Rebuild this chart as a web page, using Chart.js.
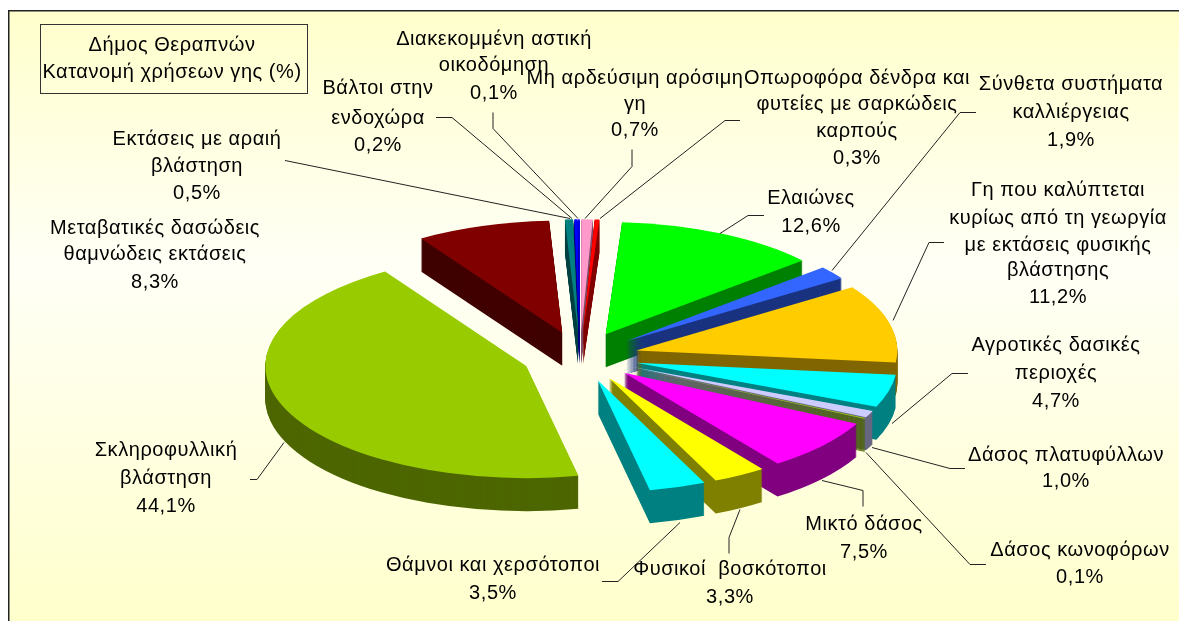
<!DOCTYPE html>
<html>
<head>
<meta charset="utf-8">
<title>Δήμος Θεραπνών</title>
<script src="https://cdn.jsdelivr.net/npm/chart.js@4/dist/chart.umd.min.js"></script>
<style>
  html, body { margin: 0; padding: 0; background: #fff; }
  canvas { display: block; }
</style>
</head>
<body>
<canvas id="landUseChart" width="1179" height="621"></canvas>
<script>
// Values clockwise from 12 o'clock
const categories = [
    'Μη αρδεύσιμη αρόσιμη γη', 'Οπωροφόρα δένδρα και φυτείες με σαρκώδεις καρπούς', 'Ελαιώνες',
    'Σύνθετα συστήματα καλλιέργειας', 'Γη που καλύπτεται κυρίως από τη γεωργία με εκτάσεις φυσικής βλάστησης',
    'Αγροτικές δασικές περιοχές', 'Δάσος πλατυφύλλων', 'Δάσος κωνοφόρων', 'Μικτό δάσος',
    'Φυσικοί  βοσκότοποι', 'Θάμνοι και χερσότοποι', 'Σκληροφυλλική βλάστηση',
    'Μεταβατικές δασώδεις θαμνώδεις εκτάσεις', 'Εκτάσεις με αραιή βλάστηση', 'Βάλτοι στην ενδοχώρα',
    'Διακεκομμένη αστική οικοδόμηση'
];
const values = [0.7, 0.3, 12.6, 1.9, 11.2, 4.7, 1.0, 0.1, 7.5, 3.3, 3.5, 44.1, 8.3, 0.5, 0.2, 0.1];
const topColors = ['#FF99CC', '#FF0000', '#00FF00', '#3366FF', '#FFCC00', '#00FFFF', '#CCCCFF', '#99CC00',
    '#FF00FF', '#FFFF00', '#00FFFF', '#99CC00', '#800000', '#008080', '#0000FF', '#0000FF'];
const sideColors = ['#804D66', '#800000', '#008000', '#1A3380', '#806600', '#008080', '#666680', '#4D6600',
    '#800080', '#808000', '#008080', '#4D6600', '#400000', '#004040', '#000080', '#000080'];

const titleLines = ['Δήμος Θεραπνών', 'Κατανομή χρήσεων γης (%)'];

// Wrapped label text, same order as categories
const labelLines = [
    ['Μη αρδεύσιμη αρόσιμη', 'γη'],
    ['Οπωροφόρα δένδρα και', 'φυτείες με σαρκώδεις', 'καρπούς'],
    ['Ελαιώνες'],
    ['Σύνθετα συστήματα', 'καλλιέργειας'],
    ['Γη που καλύπτεται', 'κυρίως από τη γεωργία', 'με εκτάσεις φυσικής', 'βλάστησης'],
    ['Αγροτικές δασικές', 'περιοχές'],
    ['Δάσος πλατυφύλλων'],
    ['Δάσος κωνοφόρων'],
    ['Μικτό δάσος'],
    ['Φυσικοί  βοσκότοποι'],
    ['Θάμνοι και χερσότοποι'],
    ['Σκληροφυλλική', 'βλάστηση'],
    ['Μεταβατικές δασώδεις', 'θαμνώδεις εκτάσεις'],
    ['Εκτάσεις με αραιή', 'βλάστηση'],
    ['Βάλτοι στην', 'ενδοχώρα'],
    ['Διακεκομμένη αστική', 'οικοδόμηση']
];

// Label placement: center x, then center y of each text row
const labelPlaces = [
    [635, [78, 104, 130]],
    [857, [78, 104, 131, 158]],
    [811, [198, 226]],
    [1071, [84, 112, 140]],
    [1058, [190, 218, 245, 270, 297]],
    [1056, [345, 373, 401]],
    [1066, [455, 481]],
    [1080, [550, 577]],
    [864, [524, 552]],
    [730, [569, 597]],
    [493, [565, 593]],
    [166, [450, 478, 506]],
    [155, [228, 254, 282]],
    [197, [139, 166, 193]],
    [378, [88, 118, 145]],
    [494, [39, 65, 93]]
];

// Leader lines, label end first
const leaderPaths = [
    [[632, 149], [632, 166], [585, 218]],
    [[740, 120], [725, 120], [600, 218]],
    [[764, 215], [748, 215], [720, 233]],
    [[976, 112], [960, 112], [832, 270]],
    [[944, 242], [929, 242], [893, 320]],
    [[968, 373], [952, 373], [892, 423]],
    [[965, 468], [950, 468], [872, 447]],
    [[986, 564], [970, 564], [866, 452]],
    [[863, 506], [863, 490], [822, 480]],
    [[729, 553], [729, 537], [740, 509]],
    [[602, 581], [618, 581], [680, 522]],
    [[250, 479], [257, 479], [284, 442]],
    null,
    [[285, 160], [570, 218]],
    [[436, 117], [452, 117], [572, 218]],
    [[493, 112], [493, 128], [578, 218]]
];

const FONT = '20px "Liberation Sans", Arial, sans-serif';
const TILT = 0.43;    // vertical squash of the pie
const DEPTH = 33;     // thickness of the slices in px

// Frame and gradient behind everything
const backdrop = {
    id: 'backdrop',
    beforeDraw(chart) {
        const { ctx, width, height } = chart;
        const grad = ctx.createLinearGradient(0, 10, 0, height);
        grad.addColorStop(0, '#FFFFCC');
        grad.addColorStop(0.42, '#FFFFF6');
        grad.addColorStop(1, '#FFFFCC');
        ctx.save();
        ctx.fillStyle = grad;
        ctx.fillRect(9, 11, width - 9, height - 11);
        ctx.fillStyle = '#222';
        ctx.fillRect(8, 10, width - 8, 1.5);
        ctx.fillRect(8, 10, 1.5, height - 10);
        ctx.restore();
    }
};

function sliceFill(ctx, arc, offX, offY, fill) {
    ctx.save();
    ctx.translate(arc.x + offX, arc.y + offY);
    ctx.scale(1, TILT);
    ctx.beginPath();
    ctx.moveTo(0, 0);
    ctx.arc(0, 0, arc.outerRadius, arc.startAngle, arc.endAngle);
    ctx.closePath();
    ctx.restore();
    ctx.fillStyle = fill;
    ctx.fill();
}

// Chart.js gives us the slice geometry, this squashes and extrudes it
const tiltedPie = {
    id: 'tiltedPie',
    beforeDatasetDraw(chart) {
        const { ctx } = chart;
        const arcs = chart.getDatasetMeta(0).data.map((el, i) => {
            const p = el.getProps(['x', 'y', 'startAngle', 'endAngle', 'outerRadius']);
            const mid = (p.startAngle + p.endAngle) / 2;
            const off = el.options.offset;
            return { ...p, i, mid, offX: Math.cos(mid) * off, offY: Math.sin(mid) * off * TILT };
        });
        arcs.sort((a, b) => Math.sin(a.mid) - Math.sin(b.mid));
        arcs.forEach(a => {
            for (let d = DEPTH; d > 0; d--) {
                sliceFill(ctx, a, a.offX, a.offY + d, sideColors[a.i]);
            }
            sliceFill(ctx, a, a.offX, a.offY, topColors[a.i]);
        });
        return false;
    }
};

const pieLabels = {
    id: 'pieLabels',
    afterDraw(chart) {
        const { ctx } = chart;
        ctx.save();
        ctx.strokeStyle = '#222';
        ctx.lineWidth = 1;
        leaderPaths.forEach(path => {
            if (!path) return;
            ctx.beginPath();
            path.forEach((pt, i) => i ? ctx.lineTo(pt[0], pt[1] + 0.5) : ctx.moveTo(pt[0], pt[1] + 0.5));
            ctx.stroke();
        });

        ctx.font = FONT;
        ctx.letterSpacing = '0.55px';
        ctx.fillStyle = '#000';
        ctx.textAlign = 'center';
        ctx.textBaseline = 'middle';
        labelLines.forEach((lines, i) => {
            const [x, ys] = labelPlaces[i];
            const rows = lines.concat(values[i].toFixed(1).replace('.', ',') + '%');
            rows.forEach((row, r) => ctx.fillText(row, x, ys[r]));
        });

        // boxed title
        ctx.strokeStyle = '#333';
        ctx.strokeRect(40.5, 24.5, 267, 69);
        ctx.fillText(titleLines[0], 172, 45);
        ctx.fillText(titleLines[1], 172, 72);
        ctx.restore();
    }
};

new Chart(document.getElementById('landUseChart'), {
    type: 'pie',
    data: {
        labels: categories,
        datasets: [{ data: values, backgroundColor: topColors, borderWidth: 0, offset: 58 }]
    },
    options: {
        responsive: false,
        animation: false,
        events: [],
        radius: 261,
        layout: { padding: { right: 19, top: 92 } },
        plugins: { legend: { display: false }, tooltip: { enabled: false } }
    },
    plugins: [backdrop, tiltedPie, pieLabels]
});
</script>
</body>
</html>
